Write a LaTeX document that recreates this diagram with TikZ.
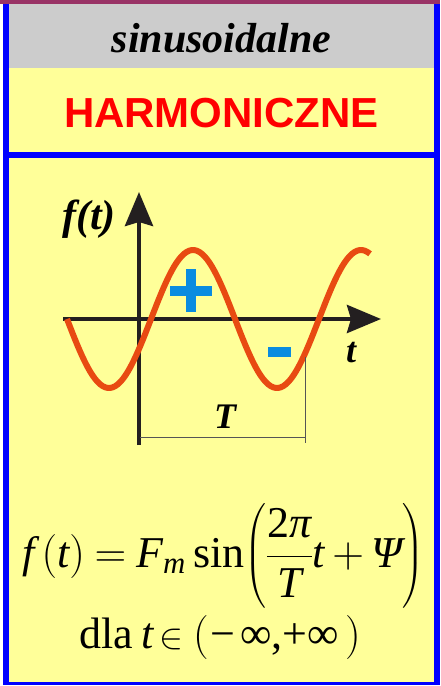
\RequirePackage{fix-cm}
\documentclass[tikz,border=0pt]{standalone}
\usepackage{amsmath}
\usepackage{fontspec}
\setmainfont{Liberation Serif}
\newfontfamily\arialf{Liberation Sans}
\usetikzlibrary{arrows.meta}
\definecolor{topstrip}{HTML}{993366}
\definecolor{frameblue}{HTML}{0000FF}
\definecolor{headgray}{HTML}{CCCCCC}
\definecolor{paleyellow}{HTML}{FFFF99}
\definecolor{waveorange}{HTML}{E84A12}
\definecolor{signblue}{HTML}{0A8CE0}
\definecolor{axisblack}{HTML}{231F20}
\definecolor{dimgray}{HTML}{555555}
\newcommand{\vi}[1]{\text{\itshape #1}}
\newcommand{\vr}[1]{\text{#1}}
\newcommand{\tightmath}{\thickmuskip=4mu plus 1mu\relax\medmuskip=3mu plus 1mu\relax}
\tikzset{
  axisline/.style={draw=axisblack, line width=4.3pt,
    -{Stealth[length=34pt,width=28pt,inset=4pt]}},
  wave/.style={draw=waveorange, line width=6pt},
  dimline/.style={draw=dimgray, line width=1pt},
  biglabel/.style={font=\fontsize{36}{40}\selectfont\bfseries\itshape, inner sep=0pt, anchor=base},
  formula/.style={font=\fontsize{44}{52}\selectfont, inner sep=0pt, anchor=base}
}
\begin{document}
\begin{tikzpicture}[x=1pt,y=-1pt]
\useasboundingbox (0,0) rectangle (440,686);
\fill[white] (0,0) rectangle (440,686);
\fill[topstrip] (0,0) rectangle (440,4);
\fill[frameblue] (3,4) rectangle (440,685);
\fill[headgray] (9,4) rectangle (434,68);
\fill[paleyellow] (9,68) rectangle (434,152);
\fill[paleyellow] (9,158) rectangle (434,682);
% titles
\node[font=\fontsize{42}{48}\selectfont\bfseries\itshape, anchor=base, inner sep=0pt] (title) at (221.5,52) {sinusoidalne};
\node[font=\arialf\fontsize{42}{48}\selectfont\bfseries, text=red, anchor=base, inner sep=0pt] (sub) at (221.5,127) {HARMONICZNE};
% axes
\coordinate (ybot) at (139,445);
\coordinate (ytop) at (139,192);
\coordinate (xleft) at (63,319);
\coordinate (xright) at (381,319);
\draw[axisline] (ybot) -- (ytop);
\draw[axisline] (xleft) -- (xright);
% wave
\draw[wave] plot[domain=67:370, samples=120, smooth] (\x, {319+69*sin(2.142857*(\x-67))});
% signs
\fill[signblue] (170,286) rectangle (212,296);
\fill[signblue] (186,269) rectangle (196,312);
\fill[signblue] (268,347) rectangle (291,357);
% labels
\node[biglabel, font=\fontsize{42}{46}\selectfont\bfseries\itshape] (flabel) at (89,229) {f(t)};
\node[biglabel] (tlabel) at (351,362) {t};
\node[biglabel] (Tlabel) at (225,428) {T};
% dimension
\coordinate (dA) at (140,437);
\coordinate (dB) at (305,437);
\coordinate (dC) at (305,357);
\coordinate (dD) at (305,443);
\draw[dimline] (dA) -- (dB);
\draw[dimline] (dC) -- (dD);
% formula
\node[formula] (eq1) at (223,567) {$\displaystyle\tightmath\vi{f}\left(\vi{t}\right)=\vi{F}_{\vi{m}}\,\vr{sin}\biggl(\frac{\vr{2}\vi{π}}{\vi{T}}\vi{t}+\vi{Ψ}\biggr)$};
\node[formula] (eq2) at (220,648) {dla\hspace{8pt}\textit{t}\hspace{5pt}{\fontsize{36}{40}\selectfont$\in$}\hspace{10pt}$($\hspace{2pt}−\hspace{5pt}∞,+∞\hspace{6pt}$)$};
\end{tikzpicture}
\end{document}
